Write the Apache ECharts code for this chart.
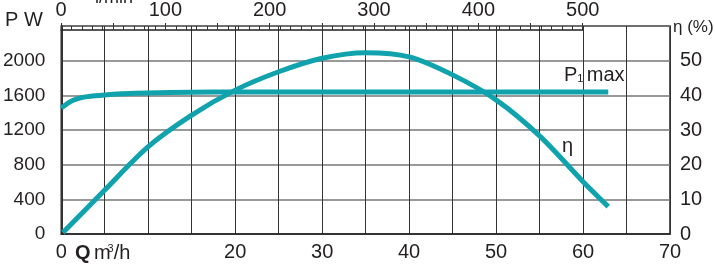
<!DOCTYPE html>
<html lang="en">
<head>
    <meta charset="UTF-8">
    <title>P1 max / eta</title>
    <style type="text/css">
        *{
            margin: 0px;
            padding: 0px;
        }
        #chart{
            width: 715px;
            height: 267px;
        }
    </style>
</head>
<body>
<div id="chart"></div>
<script src="https://cdn.jsdelivr.net/npm/echarts@6/dist/echarts.min.js"></script>
<script type="text/javascript">
  // flow Q (m3/h) and P1 max (W)
  var qPower = [0, 1, 2, 3, 5, 7, 10, 15, 20, 30, 40, 50, 62.9];
  var pMax = [1453, 1525, 1565, 1585, 1605, 1617, 1627, 1635, 1638, 1638, 1638, 1638, 1638];

  // flow Q (m3/h) and efficiency (%)
  var qEta = [0.2, 5, 10, 15, 20, 25, 30, 35, 40, 45, 50, 55, 60, 62.9];
  var eta = [0.4, 12.7, 25.2, 34.3, 41.5, 46.8, 50.7, 52.3, 51.1, 45.9, 38.7, 28.3, 15.1, 7.9];

  var qTicks = [0, 20, 30, 40, 50, 60, 70];
  var lminTicks = [0, 100, 200, 300, 400, 500];

  var pairs = function (xs, ys) {
    var out = [];
    for (var i = 0; i < xs.length; i++) {
      out.push([xs[i], ys[i]]);
    }
    return out;
  };

  var txt = '#231f20';
  var teal = '#11a3ad';
  var font = "'Liberation Sans', Arial, sans-serif";

  var myChart = echarts.init(document.getElementById('chart'));

  myChart.setOption({
    animation: false,
    textStyle: { fontFamily: font, color: txt },
    grid: [
      { left: 61, top: 26, right: 45, bottom: 33, show: true, borderColor: '#222', borderWidth: 1.5 },
      { left: 61, top: 26, width: 521.7, height: 208 }
    ],
    xAxis: [
      {
        type: 'value', gridIndex: 0, position: 'bottom',
        min: 0, max: 70, interval: 5,
        axisLine: { show: true, onZero: false, lineStyle: { color: '#222', width: 1.5 } },
        axisTick: { show: false },
        axisLabel: {
          margin: 8, fontSize: 20, color: txt, fontFamily: font,
          showMinLabel: true, showMaxLabel: true,
          formatter: function (v) { return qTicks.indexOf(v) >= 0 ? String(v) : ''; }
        },
        splitLine: { show: true, lineStyle: { color: '#333', width: 1 } }
      },
      {
        type: 'value', gridIndex: 1, position: 'top',
        min: 0, max: 500, interval: 50,
        axisLine: { show: true, onZero: false, lineStyle: { color: '#222', width: 1.5 } },
        axisTick: { show: true, inside: false, length: 7, lineStyle: { color: '#333', width: 1 } },
        minorTick: { show: true, splitNumber: 5, length: 4, lineStyle: { color: '#333', width: 1 } },
        axisLabel: {
          margin: 10, fontSize: 20, color: txt, fontFamily: font,
          formatter: function (v) { return lminTicks.indexOf(v) >= 0 ? String(v) : ''; }
        },
        splitLine: { show: false }
      }
    ],
    yAxis: [
      {
        type: 'value', gridIndex: 0, position: 'left',
        min: 0, max: 2400, interval: 400,
        axisLine: { show: true, onZero: false, lineStyle: { color: '#333', width: 2 } },
        axisTick: { show: false },
        axisLabel: {
          margin: 16, fontSize: 19, color: txt, fontFamily: font,
          formatter: function (v) { return v < 2400 ? String(v) : ''; }
        },
        splitLine: { show: true, lineStyle: { color: '#777', width: 1.5 } }
      },
      {
        type: 'value', gridIndex: 0, position: 'right',
        min: 0, max: 60, interval: 10,
        axisLine: { show: false },
        axisTick: { show: false },
        axisLabel: {
          margin: 10, fontSize: 20, color: txt, fontFamily: font,
          formatter: function (v) { return v < 60 ? String(v) : ''; }
        },
        splitLine: { show: false }
      },
      {
        type: 'value', gridIndex: 1, min: 0, max: 1, show: false
      }
    ],
    series: [
      {
        name: 'P1 max', type: 'line', xAxisIndex: 0, yAxisIndex: 0,
        data: pairs(qPower, pMax),
        smooth: 0.3, showSymbol: false, z: 5,
        lineStyle: { color: teal, width: 5 }
      },
      {
        name: 'eta', type: 'line', xAxisIndex: 0, yAxisIndex: 1,
        data: pairs(qEta, eta),
        smooth: 0.3, showSymbol: false, z: 5,
        lineStyle: { color: teal, width: 5 }
      }
    ],
    graphic: [
      { type: 'text', left: 5, top: 10, style: { text: 'P W', font: '20px ' + font, fill: txt } },
      { type: 'text', left: 95, top: -11, style: { text: 'l/min', font: '18px ' + font, fill: txt } },
      { type: 'text', left: 673, top: 19, style: { text: 'η (%)', font: '17px ' + font, fill: txt } },
      {
        type: 'text', left: 75, top: 243,
        style: {
          text: '{q|Q} {u|m}{s|3}{u|/h}',
          rich: {
            q: { font: 'bold 20px ' + font, fill: txt },
            u: { font: '20px ' + font, fill: txt },
            s: { font: '11px ' + font, fill: txt, verticalAlign: 'top', padding: [0, 0, 10, -3] }
          }
        }
      },
      {
        type: 'text', left: 564, top: 65,
        style: {
          text: '{p|P}{s|1} {m|max}',
          rich: {
            p: { font: '20px ' + font, fill: txt },
            s: { font: '11px ' + font, fill: txt, padding: [8, 0, 0, 0] },
            m: { font: '20px ' + font, fill: txt }
          }
        }
      },
      { type: 'text', left: 562, top: 136, style: { text: 'η', font: '20px ' + font, fill: txt } }
    ]
  });
</script>
</body>
</html>
